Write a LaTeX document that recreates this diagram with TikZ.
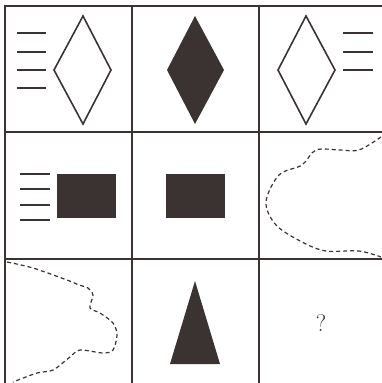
\documentclass[tikz,border=0pt]{standalone}
\begin{document}
\begin{tikzpicture}[x=1pt,y=-1pt,
  ink/.style={color=inkc},
  gridline/.style={draw=inkc,line width=2.2pt},
  hash/.style={draw=inkc,line width=2pt},
  outline/.style={draw=inkc,line width=1.6pt,line join=miter},
  solid shape/.style={fill=inkc,draw=none},
  dashcurve/.style={draw=inkc,line width=1.2pt,dash pattern=on 4pt off 3pt}]
\definecolor{inkc}{HTML}{3A3331}
\useasboundingbox (0,0) rectangle (382,383);
% grid
\draw[gridline] (5,6) -- (382,6);
\draw[gridline] (5,132) -- (382,132);
\draw[gridline] (5,259) -- (382,259);
\draw[gridline] (5,5) -- (5,383);
\draw[gridline] (132,5) -- (132,383);
\draw[gridline] (259,5) -- (259,383);
% cell 1
\foreach \y in {33,52,70,88} \draw[hash] (17,\y) -- (46,\y);
\draw[outline] (83,16) -- (111,70) -- (83,124) -- (54,70) -- cycle;
% cell 2
\fill[solid shape] (195,16) -- (224,70) -- (195,124) -- (167,70) -- cycle;
% cell 3
\draw[outline] (306,16) -- (335,70) -- (306,124) -- (278,70) -- cycle;
\foreach \y in {33,52,70} \draw[hash] (343,\y) -- (373,\y);
% cell 4
\foreach \y in {174,189,205,220} \draw[hash] (20,\y) -- (50,\y);
\fill[solid shape] (57,174) rectangle (116,218);
% cell 5
\fill[solid shape] (166,174) rectangle (225,218);
% cell 6
\draw[dashcurve] plot[smooth,tension=0.55] coordinates {(381,137) (359,150) (340,150) (316,150) (302,165) (279,175) (266,202) (276,225) (302,242) (326,251) (359,251) (381,257)};
% cell 7
\draw[dashcurve] plot[smooth,tension=0.5] coordinates {(7,262) (33,268) (67,280) (79,285) (88,288) (93,295) (90,308) (100,313) (113,323) (117,335) (113,350) (103,353) (80,350) (70,357) (53,370) (37,373) (13,382)};
% cell 8
\fill[solid shape] (195,281) -- (220,364) -- (170,364) -- cycle;
% cell 9
\node[ink,font=\fontsize{24}{26}\selectfont,inner sep=0pt] (q) at (321,323) {?};
\end{tikzpicture}
\end{document}
